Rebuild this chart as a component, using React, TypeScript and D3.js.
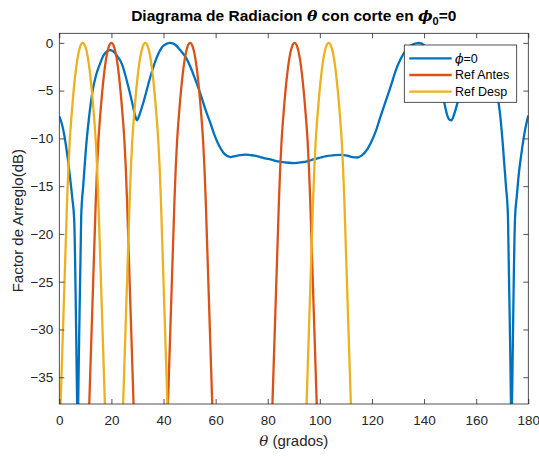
import React, { useEffect, useRef } from 'react';
import * as d3 from 'd3';

// Diagrama de radiacion, corte en phi0 = 0 (estilo MATLAB)

const xTicks = [0, 20, 40, 60, 80, 100, 120, 140, 160, 180];
const yTicks = [0, -5, -10, -15, -20, -25, -30, -35];

// [theta (grados), factor de arreglo (dB)]
const phi0Curve: [number, number][] = [
  [0, -7.7], [1, -8.5], [2, -9.8], [3, -11.6], [4, -13.8], [5, -16.3], [5.7, -18.4],
  [6.85, -37.8], [7.05, -41.5], [7.25, -37.8], [8.4, -18.2], [9.2, -14.9], [10.5, -10.2],
  [11.5, -7.6], [12.8, -5.0], [14, -3.5], [15.6, -2.2], [17, -1.3], [18.5, -0.85], [19.5, -0.76],
  [20.5, -0.85], [22, -1.3], [24, -2.2], [26.5, -4.6], [28, -6.3], [29, -7.5], [29.8, -8.1],
  [30.8, -7.5], [32.3, -6.2], [34.9, -3.6], [36.5, -2.2], [38.1, -1.1], [40, -0.3], [42.5, 0],
  [44.5, -0.2], [46.4, -0.76], [48.5, -1.5], [50.3, -2.5], [52, -3.7], [54.1, -5.3], [56, -6.9],
  [58, -8.4], [59.5, -9.6], [61.2, -10.7], [63, -11.5], [64.5, -11.85], [65.7, -11.95],
  [67.5, -11.85], [69.5, -11.75], [71.5, -11.7], [73.3, -11.75], [75, -11.8], [77.2, -11.95],
  [79, -12.1], [81, -12.2], [83, -12.35], [85, -12.45], [88, -12.55], [90.3, -12.58],
  [93, -12.5], [95.1, -12.4], [97.5, -12.2], [100.3, -12.0], [102.5, -11.85], [105.4, -11.76],
  [108, -11.72], [110.5, -11.8], [112.5, -11.95], [114.4, -12.0], [116, -11.8], [117.5, -11.4],
  [119.5, -10.5], [121.4, -9.3], [123.3, -7.7], [125.9, -5.6], [127.5, -4.3], [129.1, -2.9],
  [131, -1.7], [133, -0.76], [135, -0.25], [138.1, 0], [140.2, -0.3], [142, -1.1], [144, -2.4],
  [145.7, -3.8], [147.7, -6.2], [148.7, -7.4], [149.6, -8.0], [150.5, -8.1], [151.5, -7.5],
  [152.8, -6.3], [154.5, -4.4], [156.5, -2.3], [158.5, -1.3], [160, -0.85], [161, -0.76],
  [162.5, -0.85], [164, -1.4], [165, -2.2], [166.6, -3.5], [167.8, -5.0], [169.1, -7.3],
  [170.1, -10.2], [171.4, -14.9], [172.2, -18.2], [173.35, -37.8], [173.55, -41.5],
  [173.75, -37.8], [174.9, -18.4], [175.6, -16.0], [176.4, -13.6], [177.2, -11.9],
  [178.5, -9.5], [179.3, -8.4], [180, -7.6],
];

// Ref Antes: lobulos en 20, 50.2 y 90.3 grados
const antesLobe1: [number, number][] = [
  [11.1, -41.2], [11.5, -37.8], [13.8, -18.2], [14, -16.5], [14.5, -13], [15, -10.3], [15.5, -8.3],
  [16, -6.6], [17, -3.7], [18, -1.6], [19, -0.4], [20, 0], [21, -0.4], [22, -1.6], [23, -3.7],
  [24, -6.6], [24.5, -8.3], [25, -10.3], [25.5, -13], [26, -16.5], [26.2, -18.2], [28.5, -37.8],
  [28.9, -41.2],
];
const antesLobe2: [number, number][] = [
  [41.3, -41.2], [41.7, -37.8], [44.0, -18.2], [44.2, -16.5], [44.7, -13], [45.2, -10.3],
  [45.7, -8.3], [46.2, -6.6], [47.2, -3.7], [48.2, -1.6], [49.2, -0.4], [50.2, 0], [51.2, -0.4],
  [52.2, -1.6], [53.2, -3.7], [54.2, -6.6], [54.7, -8.3], [55.2, -10.3], [55.7, -13],
  [56.2, -16.5], [56.4, -18.2], [58.7, -37.8], [59.1, -41.2],
];
const antesLobe3: [number, number][] = [
  [81.4, -41.2], [81.8, -37.8], [84.1, -18.2], [84.3, -16.5], [84.8, -13], [85.3, -10.3],
  [85.8, -8.3], [86.3, -6.6], [87.3, -3.7], [88.3, -1.6], [89.3, -0.4], [90.3, 0], [91.3, -0.4],
  [92.3, -1.6], [93.3, -3.7], [94.3, -6.6], [94.8, -8.3], [95.3, -10.3], [95.8, -13],
  [96.3, -16.5], [96.5, -18.2], [98.8, -37.8], [99.2, -41.2],
];

// Ref Desp: lobulos en 9, 33 y 103.4 grados
const despLobe1: [number, number][] = [
  [0.1, -41.2], [0.5, -37.8], [2.8, -18.2], [3, -16.5], [3.5, -13], [4, -10.3], [4.5, -8.3],
  [5, -6.6], [6, -3.7], [7, -1.6], [8, -0.4], [9, 0], [10, -0.4], [11, -1.6], [12, -3.7],
  [13, -6.6], [13.5, -8.3], [14, -10.3], [14.5, -13], [15, -16.5], [15.2, -18.2], [17.5, -37.8],
  [17.9, -41.2],
];
const despLobe2: [number, number][] = [
  [24.1, -41.2], [24.5, -37.8], [26.8, -18.2], [27, -16.5], [27.5, -13], [28, -10.3], [28.5, -8.3],
  [29, -6.6], [30, -3.7], [31, -1.6], [32, -0.4], [33, 0], [34, -0.4], [35, -1.6], [36, -3.7],
  [37, -6.6], [37.5, -8.3], [38, -10.3], [38.5, -13], [39, -16.5], [39.2, -18.2], [41.5, -37.8],
  [41.9, -41.2],
];
const despLobe3: [number, number][] = [
  [94.5, -41.2], [94.9, -37.8], [97.2, -18.2], [97.4, -16.5], [97.9, -13], [98.4, -10.3],
  [98.9, -8.3], [99.4, -6.6], [100.4, -3.7], [101.4, -1.6], [102.4, -0.4], [103.4, 0],
  [104.4, -0.4], [105.4, -1.6], [106.4, -3.7], [107.4, -6.6], [107.9, -8.3], [108.4, -10.3],
  [108.9, -13], [109.4, -16.5], [109.6, -18.2], [111.9, -37.8], [112.3, -41.2],
];

const seriesNames = ['=0', 'Ref Antes', 'Ref Desp'];
const seriesColors = ['#0072BD', '#D95319', '#EDB120'];
const seriesLobes = [[phi0Curve], [antesLobe1, antesLobe2, antesLobe3], [despLobe1, despLobe2, despLobe3]];

const FONT = "'Liberation Sans', Arial, Helvetica, sans-serif";
const GREEK = "'DejaVu Serif', serif";
const INK = '#262626';

const App = () => {
  const svgRef = useRef<SVGSVGElement>(null);

  useEffect(() => {
    const width = 539;
    const height = 456;
    const margin = { top: 33.3, right: 10.7, bottom: 52, left: 59.3 };

    const svg = d3.select(svgRef.current);
    svg.selectAll('*').remove();

    const xScale = d3.scaleLinear().domain([0, 180]).range([margin.left, width - margin.right]);
    const yScale = d3.scaleLinear().domain([-37.8, 1]).range([height - margin.bottom, margin.top]);

    svg.append('rect').attr('width', width).attr('height', height).attr('fill', '#fff');

    svg.append('clipPath').attr('id', 'plot-clip')
      .append('rect')
      .attr('x', margin.left).attr('y', margin.top)
      .attr('width', width - margin.left - margin.right)
      .attr('height', height - margin.top - margin.bottom);

    // Lines
    const line = d3.line<[number, number]>()
      .x(d => xScale(d[0]))
      .y(d => yScale(d[1]))
      .curve(d3.curveMonotoneX);

    const plot = svg.append('g').attr('clip-path', 'url(#plot-clip)');
    seriesLobes.forEach((lobes, i) => {
      lobes.forEach(lobe => {
        plot.append('path')
          .attr('d', line(lobe))
          .attr('fill', 'none')
          .attr('stroke', seriesColors[i])
          .attr('stroke-width', 2.3)
          .attr('stroke-linejoin', 'round');
      });
    });

    // Axes (inner ticks on all four sides)
    const styleAxis = (g: any) => {
      g.select('.domain').remove();
      g.selectAll('line').attr('stroke', INK).attr('stroke-width', 0.8);
      g.selectAll('text').attr('fill', INK).attr('font-size', 13.5).attr('font-family', FONT);
    };

    svg.append('g')
      .attr('transform', `translate(0, ${height - margin.bottom})`)
      .call(d3.axisBottom(xScale).tickValues(xTicks).tickSizeInner(-5).tickSizeOuter(0).tickPadding(11.6))
      .call(styleAxis);
    svg.append('g')
      .attr('transform', `translate(0, ${margin.top})`)
      .call(d3.axisTop(xScale).tickValues(xTicks).tickSizeInner(-5).tickSizeOuter(0).tickFormat(() => ''))
      .call(styleAxis);
    svg.append('g')
      .attr('transform', `translate(${margin.left}, 0)`)
      .call(d3.axisLeft(yScale).tickValues(yTicks).tickSizeInner(-5).tickSizeOuter(0).tickPadding(6))
      .call(styleAxis);
    svg.append('g')
      .attr('transform', `translate(${width - margin.right}, 0)`)
      .call(d3.axisRight(yScale).tickValues(yTicks).tickSizeInner(-5).tickSizeOuter(0).tickFormat(() => ''))
      .call(styleAxis);

    svg.append('rect')
      .attr('x', margin.left).attr('y', margin.top)
      .attr('width', width - margin.left - margin.right)
      .attr('height', height - margin.top - margin.bottom)
      .attr('fill', 'none').attr('stroke', INK).attr('stroke-width', 0.8);

    // Title
    const title = svg.append('text')
      .attr('x', (margin.left + width - margin.right) / 2)
      .attr('y', 20.7)
      .attr('text-anchor', 'middle')
      .attr('font-family', FONT).attr('font-size', 15.5).attr('font-weight', 'bold')
      .attr('fill', '#000');
    title.append('tspan').text('Diagrama de Radiacion ');
    title.append('tspan').attr('font-family', GREEK).attr('font-style', 'italic').text('θ');
    title.append('tspan').text(' con corte en ');
    title.append('tspan').attr('font-family', GREEK).attr('font-style', 'italic').text('ϕ');
    title.append('tspan').attr('dy', 4.5).attr('font-size', 11).text('0');
    title.append('tspan').attr('dy', -4.5).text('=0');

    // Axis labels
    const xLabel = svg.append('text')
      .attr('x', (margin.left + width - margin.right) / 2)
      .attr('y', 446)
      .attr('text-anchor', 'middle')
      .attr('font-family', FONT).attr('font-size', 15).attr('fill', INK);
    xLabel.append('tspan').attr('font-family', GREEK).attr('font-style', 'italic').text('θ');
    xLabel.append('tspan').text(' (grados)');

    svg.append('text')
      .attr('transform', `translate(23, ${(margin.top + height - margin.bottom) / 2 + 2}) rotate(-90)`)
      .attr('text-anchor', 'middle')
      .attr('font-family', FONT).attr('font-size', 15).attr('fill', INK)
      .text('Factor de Arreglo(dB)');

    // Legend
    const legend = svg.append('g');
    legend.append('rect')
      .attr('x', 404.3).attr('y', 45).attr('width', 112.4).attr('height', 57.3)
      .attr('fill', '#fff').attr('stroke', INK).attr('stroke-width', 0.8);
    seriesNames.forEach((name, i) => {
      const yy = 58.3 + i * 16.7;
      legend.append('line')
        .attr('x1', 409.3).attr('x2', 451.7).attr('y1', yy).attr('y2', yy)
        .attr('stroke', seriesColors[i]).attr('stroke-width', 2.3);
      const t = legend.append('text')
        .attr('x', 455).attr('y', yy + 4.4)
        .attr('font-family', FONT).attr('font-size', 12.5).attr('fill', '#000');
      if (i === 0) {
        t.append('tspan').attr('font-family', GREEK).attr('font-style', 'italic').text('ϕ');
      }
      t.append('tspan').text(name);
    });
  }, []);

  return (
    <svg
      ref={svgRef}
      width="539"
      height="456"
      style={{ position: 'absolute', left: 0, top: 0 }}
    />
  );
};

export default App;
